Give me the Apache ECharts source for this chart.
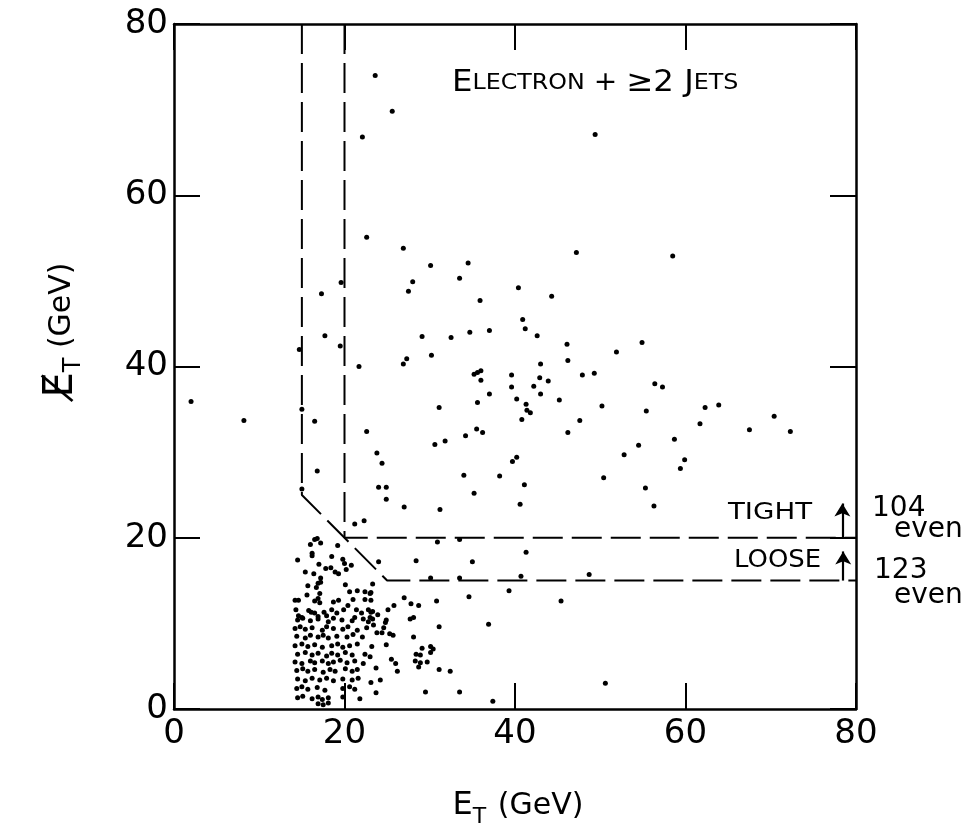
<!DOCTYPE html>
<html>
<head>
<meta charset="utf-8">
<script src="https://cdn.jsdelivr.net/npm/echarts@6/dist/echarts.min.js"></script>
<style>
html,body{margin:0;padding:0;background:#fff;}
#chart{width:962px;height:840px;}
</style>
</head>
<body>
<div id="chart"></div>
<script>
// ---- axis ticks ----
var xTicks = [0, 20, 40, 60, 80];
var yTicks = [0, 20, 40, 60, 80];

// ---- cut boundaries (E_T, missing E_T in GeV) ----
var looseCut = [[15, 80], [15, 25], [25, 15], [80, 15]];
var tightCut = [[20, 80], [20, 20], [80, 20]];
var tightArrow = [78.4, 20, 24.0];
var looseArrow = [78.5, 15, 18.4];

// ---- events with large missing E_T ----
var highEvents = [
  [22.6,55.1],[26.9,53.8],[30.1,51.8],[34.5,52.1],[33.5,50.3],[28.0,49.9],[27.5,48.8],[17.3,48.5],
  [19.6,49.8],[40.4,49.2],[44.3,48.2],[35.9,47.7],[17.7,43.6],[29.1,43.5],[32.5,43.4],[34.7,44.0],
  [37.0,44.2],[40.9,45.5],[41.2,44.4],[42.6,43.6],[46.1,42.6],[46.2,40.7],[14.7,42.0],[19.5,42.4],
  [21.7,40.0],[26.9,40.3],[27.3,40.9],[30.2,41.3],[35.2,39.1],[35.6,39.3],[36.0,39.5],[36.0,38.4],
  [39.6,39.0],[43.0,40.3],[42.9,38.7],[43.9,38.3],[39.6,37.6],[42.2,37.7],[37.0,36.8],[35.6,35.8],
  [40.2,36.2],[41.3,35.6],[43.0,36.8],[45.2,36.1],[41.4,34.9],[41.8,34.6],[40.8,33.8],[31.1,35.2],
  [16.5,33.6],[22.6,32.4],[35.5,32.7],[36.2,32.3],[34.2,31.9],[31.8,31.3],[30.6,30.9],[46.2,32.3],
  [23.8,29.9],[24.4,28.7],[39.7,28.9],[40.2,29.4],[16.8,27.8],[34.0,27.3],[38.2,27.2],[24.0,25.9],
  [24.9,25.9],[41.1,26.2],[15.0,25.7],[24.9,24.5],[35.2,25.2],[27.0,23.6],[40.6,23.9],[31.2,23.3],
  [21.2,21.6],[22.3,22.0],
  [47.2,53.3],[58.5,52.9],[51.9,41.7],[54.9,42.8],[47.9,39.0],[49.3,39.2],[56.4,38.0],[57.3,37.6],
  [50.2,35.4],[47.6,33.7],[55.4,34.8],[62.3,35.2],[63.9,35.5],[61.7,33.3],[70.4,34.2],[67.5,32.6],
  [72.3,32.4],[58.7,31.5],[54.5,30.8],[52.8,29.7],[59.9,29.1],[59.4,28.1],[50.4,27.0],[55.3,25.8],
  [56.3,23.7],
  [23.6,74.0],[25.6,69.8],[22.1,66.8],[49.4,67.1],
  [2.0,35.9],[8.2,33.7],[15.0,35.0]
];

// ---- events with small missing E_T ----
var lowEvents = [
  [30.9,19.5],[33.5,19.8],[24.0,17.2],[28.4,17.3],[35.0,17.2],[30.1,15.3],[33.5,15.3],[23.3,14.6],
  [39.3,13.8],[23.1,13.6],[23.1,12.7],[27.0,13.0],[30.8,12.6],[34.6,13.1],[27.8,12.3],[28.7,12.1],
  [25.8,12.1],[25.1,11.6],[23.3,11.4],[23.9,11.0],[23.0,10.7],[23.3,10.5],[27.7,10.5],[28.1,10.7],
  [24.9,10.4],[24.8,10.1],[23.4,9.8],[24.6,9.5],[31.1,9.6],[36.9,9.9],[23.8,8.9],[24.4,8.9],
  [25.3,8.8],[25.7,8.6],[28.1,8.4],[24.9,7.5],[29.1,7.1],[30.1,7.3],[30.4,7.0],[30.1,6.6],
  [28.4,6.4],[28.9,6.3],[23.0,6.1],[25.5,5.8],[26.0,5.3],[28.3,5.6],[28.9,5.4],[29.7,5.5],
  [28.7,4.9],[23.7,4.8],[26.2,4.4],[31.1,4.6],[32.4,4.4],[23.1,3.1],[24.2,3.4],[23.7,1.9],
  [29.5,2.0],[33.5,2.0],[37.4,0.9],
  [41.3,18.3],[40.7,15.5],[48.7,15.7],[45.4,12.6],[50.6,3.0]
];

// ---- dense cluster near threshold ----
var clusterEvents = [
  [16.5,19.8],[16.8,19.9],[16.0,19.2],[17.2,19.4],[19.2,19.1],[16.2,18.2],[16.2,17.9],[14.5,17.4],
  [17.0,16.9],[18.5,17.8],[19.8,17.5],[20.0,17.0],[17.8,16.4],[18.4,16.5],[18.9,16.0],[19.3,15.8],
  [20.2,16.3],[20.8,16.8],[15.4,16.0],[16.4,15.8],[17.2,15.3],[16.9,14.7],[17.2,14.8],[16.7,14.2],
  [20.1,14.5],[15.7,14.4],[20.6,13.7],[21.5,13.8],[22.4,13.7],[23.0,13.5],[17.1,13.5],[15.6,13.3],
  [14.2,12.7],[14.6,12.7],[16.5,12.6],[16.9,12.9],[17.1,12.4],[18.7,12.5],[19.3,12.7],[21.0,12.8],
  [22.4,12.8],[20.4,12.1],[14.3,11.6],[15.8,11.5],[16.1,11.3],[16.5,11.2],[17.6,11.3],[18.5,11.6],
  [19.1,11.2],[19.9,11.6],[21.4,11.6],[22.0,11.2],[22.8,11.6],[23.1,11.3],[14.6,10.9],[15.0,10.7],
  [16.9,10.8],[17.9,10.9],[21.2,10.7],
  [14.5,10.4],[15.1,10.6],[16.0,10.3],[16.9,10.5],[18.1,10.2],[18.7,10.6],[19.7,10.4],[20.9,10.3],
  [22.2,10.5],[22.8,10.2],
  [14.2,9.4],[14.8,9.6],[15.4,9.3],[16.2,9.5],[17.4,9.2],[17.9,9.6],[18.7,9.4],[19.8,9.3],
  [20.4,9.6],[21.5,9.2],[22.6,9.5],
  [14.4,8.5],[15.4,8.3],[16.0,8.6],[16.9,8.4],[17.5,8.6],[18.1,8.3],[19.1,8.5],[20.3,8.4],
  [21.0,8.7],[22.1,8.4],
  [14.2,7.4],[15.0,7.6],[15.7,7.3],[16.5,7.5],[17.4,7.2],[18.5,7.4],[19.2,7.6],[19.8,7.2],
  [20.6,7.4],[21.5,7.6],[23.2,7.3],
  [14.5,6.4],[15.4,6.6],[16.2,6.3],[16.9,6.5],[17.9,6.2],[18.5,6.5],[19.2,6.3],[20.1,6.6],
  [20.9,6.3],[22.4,6.4],
  [14.2,5.5],[15.0,5.3],[16.0,5.6],[16.5,5.4],[17.4,5.6],[18.1,5.3],[18.7,5.5],[19.5,5.7],
  [20.3,5.4],[21.2,5.6],[22.2,5.3],
  [14.4,4.5],[15.1,4.7],[15.7,4.4],[16.5,4.6],[17.5,4.3],[18.3,4.6],[18.9,4.4],[20.1,4.7],
  [20.9,4.4],[21.5,4.6],
  [14.5,3.5],[15.4,3.3],[16.2,3.6],[17.1,3.4],[17.9,3.6],[18.7,3.3],[19.8,3.5],[20.9,3.4],
  [21.6,3.6],
  [14.4,2.4],[15.0,2.6],[15.7,2.3],[16.8,2.5],[17.7,2.2],[19.8,2.4],[20.6,2.6],[21.2,2.3],
  [14.5,1.3],[15.1,1.5],[16.2,1.2],[16.9,1.4],[17.4,1.1],[18.1,1.3],[19.8,1.4],[21.8,1.2],
  [16.9,0.6],[17.5,0.5],[18.1,0.7]
];

var FONT = "'DejaVu Sans', 'Liberation Sans', sans-serif";
var chart = echarts.init(document.getElementById('chart'), null, {renderer: 'canvas'});

function axisBase(showLabel, pos) {
  return {
    type: 'value', min: xTicks[0], max: xTicks[xTicks.length - 1], interval: 20,
    position: pos,
    axisLine: {show: true, onZero: false, lineStyle: {color: '#000', width: 2.5}},
    axisTick: {show: true, inside: true, length: 26, lineStyle: {color: '#000', width: 2}},
    axisLabel: {show: showLabel, color: '#000', fontSize: 34, fontFamily: FONT, margin: 8},
    splitLine: {show: false}
  };
}

var xBottom = axisBase(true, 'bottom');
var xTop = axisBase(false, 'top');
var yLeft = axisBase(true, 'left');
yLeft.min = yTicks[0]; yLeft.max = yTicks[yTicks.length - 1];
yLeft.axisLabel.margin = 6;
var yRight = axisBase(false, 'right');
yRight.min = yTicks[0]; yRight.max = yTicks[yTicks.length - 1];

var dashStyle = {color: '#000', width: 2, type: [30, 9]};
var arrowMark = function (a) {
  return {silent: true, symbol: ['none', 'arrow'], symbolSize: [12, 13], label: {show: false},
    lineStyle: {color: '#000', width: 2.2, type: 'solid'},
    data: [[{coord: [a[0], a[1]]}, {coord: [a[0], a[2]]}]]};
};
var dotStyle = {color: '#000', opacity: 1};

var option = {
  backgroundColor: '#fff',
  animation: false,
  grid: {left: 174, right: 106, top: 24, bottom: 131, containLabel: false},
  xAxis: [xBottom, xTop],
  yAxis: [yLeft, yRight],
  series: [
    {type: 'line', data: looseCut, symbol: 'none', silent: true, lineStyle: dashStyle, z: 1, markLine: arrowMark(looseArrow)},
    {type: 'line', data: tightCut, symbol: 'none', silent: true, lineStyle: dashStyle, z: 1, markLine: arrowMark(tightArrow)},
    {type: 'scatter', data: highEvents, symbolSize: 5, itemStyle: dotStyle, z: 3},
    {type: 'scatter', data: lowEvents, symbolSize: 5, itemStyle: dotStyle, z: 3},
    {type: 'scatter', data: clusterEvents, symbolSize: 5, itemStyle: dotStyle, z: 3}
  ],
  graphic: [
    {type: 'text', left: 452, top: 68, scaleX: 1.08,
     style: {text: '{b|E}{s|LECTRON}{m| + }{b|≥2 J}{s|ETS}', fill: '#000', fontFamily: FONT,
       rich: {b: {fontSize: 30, fontFamily: FONT}, s: {fontSize: 22, fontFamily: FONT}, m: {fontSize: 26, fontFamily: FONT}}}},
    {type: 'text', left: 728, top: 502, style: {text: 'TIGHT', fontSize: 23, fill: '#000', fontFamily: FONT}, scaleX: 1.2},
    {type: 'text', left: 734, top: 549, style: {text: 'LOOSE', fontSize: 24, fill: '#000', fontFamily: FONT}, scaleX: 1.08},
    {type: 'text', left: 872, top: 495, style: {text: '104', fontSize: 28, fill: '#000', fontFamily: FONT}},
    {type: 'text', left: 894, top: 516, style: {text: 'events', fontSize: 28, fill: '#000', fontFamily: FONT}},
    {type: 'text', left: 874, top: 557, style: {text: '123', fontSize: 28, fill: '#000', fontFamily: FONT}},
    {type: 'text', left: 894, top: 582, style: {text: 'events', fontSize: 28, fill: '#000', fontFamily: FONT}},
    {type: 'text', x: 518, y: 806,
     style: {text: '{e|E}{t|T}{g| (GeV)}', align: 'center', verticalAlign: 'middle', fill: '#000', fontFamily: FONT,
       rich: {e: {fontSize: 32, fontFamily: FONT}, t: {fontSize: 22, fontFamily: FONT, padding: [22, 2, 0, 0]}, g: {fontSize: 30, fontFamily: FONT}}}},
    {type: 'text', x: 62, y: 330, rotation: Math.PI / 2,
     style: {text: '{e|E\u0338}{t|T}{g| (GeV)}', align: 'center', verticalAlign: 'middle', fill: '#000', fontFamily: FONT,
       rich: {e: {fontSize: 40, fontFamily: FONT}, t: {fontSize: 24, fontFamily: FONT, padding: [24, 0, 0, 0]}, g: {fontSize: 30, fontFamily: FONT}}}}
  ]
};
chart.setOption(option);
</script>
</body>
</html>
